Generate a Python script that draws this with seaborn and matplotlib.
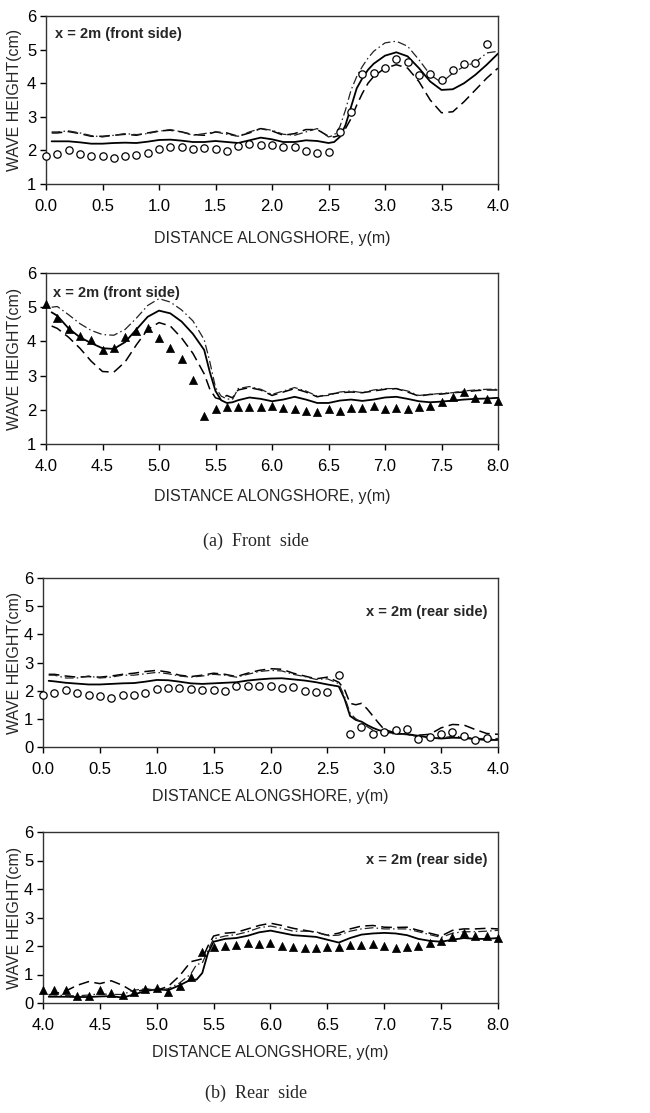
import numpy as np
import pandas as pd
import matplotlib
matplotlib.use("Agg")
import matplotlib.pyplot as plt
import seaborn as sns

sns.set_style("ticks")
plt.rcParams['font.family'] = ['Liberation Sans', 'DejaVu Sans']

# ---------------- Panel 1 : front side, y = 0..4 ----------------
obs1_x = [round(0.1 * i, 1) for i in range(40)]
obs1_y = [1.83, 1.90, 2.02, 1.90, 1.84, 1.84, 1.77, 1.84, 1.86, 1.92,
          2.05, 2.10, 2.09, 2.05, 2.08, 2.04, 1.97, 2.14, 2.18, 2.17,
          2.16, 2.09, 2.11, 1.97, 1.92, 1.95, 2.55, 3.15, 4.27, 4.31,
          4.44, 4.71, 4.64, 4.23, 4.27, 4.11, 4.39, 4.57, 4.59, 5.18]
mod1_x = [0.05, 0.1, 0.2, 0.3, 0.4, 0.5, 0.6, 0.7, 0.8, 0.9, 1.0, 1.1, 1.2, 1.3, 1.4, 1.5,
          1.6, 1.7, 1.8, 1.9, 2.0, 2.1, 2.2, 2.3, 2.4, 2.5,
          2.55, 2.6, 2.65, 2.7, 2.75, 2.8, 2.85, 2.9,
          3.0, 3.1, 3.2, 3.3, 3.4, 3.5, 3.6, 3.7, 3.8, 3.9, 4.0]
solid1 = [2.27, 2.27, 2.27, 2.24, 2.20, 2.20, 2.22, 2.23, 2.22, 2.26, 2.31, 2.32, 2.29, 2.25, 2.25, 2.28,
          2.25, 2.22, 2.30, 2.38, 2.33, 2.25, 2.25, 2.30, 2.28, 2.22,
          2.25, 2.40, 2.75, 3.30, 3.85, 4.15, 4.40, 4.58,
          4.82, 4.92, 4.80, 4.45, 4.05, 3.80, 3.82, 4.00, 4.25, 4.55, 4.88]
dash1 = [2.52, 2.52, 2.56, 2.50, 2.42, 2.42, 2.45, 2.48, 2.45, 2.52, 2.58, 2.60, 2.55, 2.47, 2.45, 2.55,
         2.52, 2.42, 2.52, 2.65, 2.58, 2.45, 2.50, 2.62, 2.62, 2.42,
         2.40, 2.45, 2.65, 2.95, 3.35, 3.70, 4.00, 4.20,
         4.45, 4.55, 4.45, 4.05, 3.50, 3.12, 3.15, 3.45, 3.80, 4.15, 4.45]
dashdot1 = [2.55, 2.55, 2.58, 2.52, 2.44, 2.40, 2.45, 2.50, 2.47, 2.50, 2.57, 2.62, 2.55, 2.45, 2.50, 2.55,
            2.48, 2.42, 2.55, 2.65, 2.60, 2.48, 2.45, 2.55, 2.65, 2.40,
            2.45, 2.70, 3.20, 3.80, 4.20, 4.50, 4.75, 4.95,
            5.20, 5.25, 5.10, 4.70, 4.25, 4.02, 4.30, 4.50, 4.62, 4.90, 4.95]

# ---------------- Panel 2 : front side, y = 4..8 ----------------
obs2_x = [round(4.0 + 0.1 * i, 1) for i in range(41)]
obs2_y = [5.09, 4.67, 4.36, 4.15, 4.04, 3.76, 3.82, 4.13, 4.30, 4.40,
          4.11, 3.81, 3.49, 2.87, 1.82, 2.01, 2.07, 2.07, 2.09, 2.09,
          2.11, 2.05, 2.03, 1.97, 1.95, 2.01, 1.97, 2.06, 2.06, 2.12,
          2.01, 2.04, 2.03, 2.07, 2.12, 2.24, 2.38, 2.51, 2.34, 2.33, 2.26]
mod2_x = [4.05, 4.1, 4.2, 4.3, 4.4, 4.5, 4.6, 4.7, 4.8, 4.9, 5.0, 5.1, 5.2, 5.3, 5.4,
          5.45, 5.5, 5.55, 5.6, 5.65,
          5.7, 5.8, 5.9, 6.0, 6.1, 6.2, 6.3, 6.4, 6.5, 6.6, 6.7, 6.8, 6.9, 7.0,
          7.1, 7.2, 7.3, 7.4, 7.5, 7.6, 7.7, 7.8, 7.9, 8.0]
solid2 = [4.85, 4.75, 4.38, 4.12, 3.95, 3.80, 3.78, 3.98, 4.35, 4.72, 4.90, 4.82, 4.58, 4.22, 3.75,
          3.10, 2.55, 2.28, 2.20, 2.22,
          2.28, 2.36, 2.32, 2.25, 2.30, 2.38, 2.30, 2.20, 2.20, 2.27, 2.30, 2.26, 2.30, 2.36,
          2.38, 2.32, 2.25, 2.22, 2.24, 2.27, 2.30, 2.32, 2.33, 2.35]
dash2 = [4.45, 4.38, 4.12, 3.80, 3.42, 3.12, 3.10, 3.40, 3.90, 4.35, 4.55, 4.45, 4.10, 3.65, 3.05,
         2.60, 2.35, 2.30, 2.42, 2.35,
         2.58, 2.65, 2.58, 2.42, 2.52, 2.62, 2.52, 2.38, 2.45, 2.50, 2.52, 2.50, 2.55, 2.60,
         2.62, 2.52, 2.40, 2.45, 2.46, 2.50, 2.52, 2.56, 2.58, 2.58]
dashdot2 = [5.00, 5.02, 4.78, 4.52, 4.32, 4.20, 4.18, 4.35, 4.68, 5.05, 5.25, 5.15, 4.92, 4.60, 4.05,
            3.40, 2.65, 2.40, 2.32, 2.30,
            2.62, 2.68, 2.60, 2.45, 2.55, 2.65, 2.55, 2.40, 2.42, 2.52, 2.55, 2.50, 2.58, 2.62,
            2.62, 2.55, 2.42, 2.45, 2.48, 2.50, 2.55, 2.58, 2.60, 2.60]

# ---------------- Panel 3 : rear side, y = 0..4 ----------------
obs3_x = [round(0.1 * i, 1) for i in range(40)]
obs3_y = [1.83, 1.91, 2.03, 1.92, 1.84, 1.80, 1.73, 1.83, 1.85, 1.92,
          2.06, 2.10, 2.10, 2.06, 2.04, 2.02, 1.98, 2.15, 2.18, 2.18,
          2.17, 2.09, 2.12, 2.00, 1.95, 1.97, 2.56, 0.47, 0.71, 0.47,
          0.54, 0.59, 0.65, 0.28, 0.35, 0.46, 0.53, 0.38, 0.24, 0.32]
mod3_x = [0.05, 0.1, 0.2, 0.3, 0.4, 0.5, 0.6, 0.7, 0.8, 0.9, 1.0, 1.1, 1.2, 1.3, 1.4, 1.5,
          1.6, 1.7, 1.8, 1.9, 2.0, 2.1, 2.2, 2.3, 2.4, 2.5, 2.6,
          2.65, 2.7, 2.75, 2.8, 2.85, 2.9, 2.95, 3.0,
          3.1, 3.2, 3.3, 3.4, 3.5, 3.6, 3.7, 3.8, 3.9, 4.0]
solid3 = [2.35, 2.33, 2.28, 2.25, 2.22, 2.22, 2.24, 2.26, 2.27, 2.32, 2.38, 2.37, 2.32, 2.26, 2.24, 2.26,
          2.28, 2.30, 2.36, 2.40, 2.43, 2.44, 2.40, 2.36, 2.30, 2.22, 2.15,
          1.72, 1.10, 0.96, 0.90, 0.78, 0.68, 0.60, 0.55,
          0.48, 0.45, 0.40, 0.33, 0.30, 0.33, 0.32, 0.28, 0.25, 0.25]
dash3 = [2.58, 2.58, 2.52, 2.48, 2.50, 2.48, 2.52, 2.58, 2.62, 2.68, 2.72, 2.66, 2.55, 2.50, 2.55, 2.62,
         2.58, 2.50, 2.62, 2.72, 2.78, 2.76, 2.62, 2.52, 2.42, 2.48, 2.30,
         2.05, 1.55, 1.50, 1.55, 1.35, 1.10, 0.85, 0.62,
         0.50, 0.45, 0.42, 0.45, 0.68, 0.80, 0.78, 0.62, 0.48, 0.45]
dashdot3 = [2.55, 2.55, 2.45, 2.45, 2.52, 2.45, 2.48, 2.55, 2.55, 2.60, 2.65, 2.60, 2.52, 2.48, 2.52, 2.58,
            2.55, 2.48, 2.58, 2.68, 2.72, 2.70, 2.58, 2.50, 2.40, 2.42, 2.25,
            1.80, 1.20, 1.00, 0.88, 0.72, 0.60, 0.52, 0.50,
            0.46, 0.44, 0.36, 0.32, 0.32, 0.38, 0.36, 0.30, 0.30, 0.30]

# ---------------- Panel 4 : rear side, y = 4..8 ----------------
obs4_x = [round(4.0 + 0.1 * i, 1) for i in range(41)]
obs4_y = [0.46, 0.44, 0.45, 0.23, 0.24, 0.44, 0.35, 0.29, 0.37, 0.50,
          0.52, 0.37, 0.60, 0.91, 1.80, 1.96, 2.00, 2.03, 2.10, 2.08,
          2.12, 1.99, 1.98, 1.94, 1.92, 1.96, 1.95, 2.04, 2.03, 2.07,
          1.99, 1.94, 1.97, 2.01, 2.09, 2.19, 2.33, 2.45, 2.36, 2.36, 2.28]
mod4_x = [4.05, 4.1, 4.2, 4.3, 4.4, 4.5, 4.6, 4.7, 4.8, 4.9, 5.0, 5.1, 5.2, 5.3,
          5.35, 5.4, 5.45, 5.5,
          5.6, 5.7, 5.8, 5.9, 6.0, 6.1, 6.2, 6.3, 6.4, 6.5, 6.6, 6.7, 6.8, 6.9, 7.0,
          7.1, 7.2, 7.3, 7.4, 7.5, 7.6, 7.7, 7.8, 7.9, 8.0]
solid4 = [0.22, 0.22, 0.22, 0.21, 0.21, 0.23, 0.24, 0.19, 0.30, 0.42, 0.48, 0.45, 0.62, 0.82,
          0.82, 1.05, 1.75, 2.15,
          2.25, 2.28, 2.36, 2.48, 2.54, 2.46, 2.38, 2.35, 2.32, 2.22, 2.12, 2.28, 2.40, 2.44, 2.46,
          2.44, 2.38, 2.25, 2.18, 2.15, 2.22, 2.28, 2.25, 2.25, 2.28]
dash4 = [0.28, 0.32, 0.42, 0.62, 0.75, 0.68, 0.78, 0.62, 0.38, 0.48, 0.45, 0.58, 0.95, 1.45,
         1.50, 1.55, 2.00, 2.35,
         2.45, 2.48, 2.60, 2.72, 2.80, 2.72, 2.62, 2.55, 2.48, 2.38, 2.45, 2.60, 2.70, 2.72, 2.66,
         2.65, 2.66, 2.55, 2.45, 2.35, 2.55, 2.60, 2.60, 2.62, 2.60]
dashdot4 = [0.30, 0.28, 0.26, 0.25, 0.28, 0.32, 0.30, 0.30, 0.45, 0.50, 0.45, 0.50, 0.70, 1.02,
            1.35, 1.40, 1.85, 2.25,
            2.35, 2.40, 2.50, 2.64, 2.70, 2.62, 2.52, 2.52, 2.50, 2.36, 2.38, 2.52, 2.60, 2.64, 2.60,
            2.60, 2.60, 2.50, 2.40, 2.30, 2.45, 2.50, 2.50, 2.52, 2.55]

x_label = "DISTANCE ALONGSHORE, y(m)"
y_label = "WAVE HEIGHT(cm)"
label_front = "x = 2m (front side)"
label_rear = "x = 2m (rear side)"
caption_a = "(a)  Front  side"
caption_b = "(b)  Rear  side"

W, H = 650, 1113
fig = plt.figure(figsize=(W / 100, H / 100), dpi=100)


def box(l, r, t, b):
    return [l / W, 1 - b / H, (r - l) / W, (b - t) / H]


panels = [
    dict(rect=box(46, 498, 16, 184), obs=(obs1_x, obs1_y), marker='o', mx=mod1_x,
         s=solid1, d=dash1, dd=dashdot1, xlim=(0, 4), ylim=(1, 6), yt=range(1, 7),
         txt=label_front, tx=0.02, ty=0.895, ha='left', xl=-0.28),
    dict(rect=box(46, 498, 273, 444), obs=(obs2_x, obs2_y), marker='^', mx=mod2_x,
         s=solid2, d=dash2, dd=dashdot2, xlim=(4, 8), ylim=(1, 6), yt=range(1, 7),
         txt=label_front, tx=0.016, ty=0.885, ha='left', xl=-0.265),
    dict(rect=box(43, 498, 578, 747), obs=(obs3_x, obs3_y), marker='o', mx=mod3_x,
         s=solid3, d=dash3, dd=dashdot3, xlim=(0, 4), ylim=(0, 6), yt=range(0, 7),
         txt=label_rear, tx=0.978, ty=0.80, ha='right', xl=-0.25),
    dict(rect=box(43, 498, 832, 1003), obs=(obs4_x, obs4_y), marker='^', mx=mod4_x,
         s=solid4, d=dash4, dd=dashdot4, xlim=(4, 8), ylim=(0, 6), yt=range(0, 7),
         txt=label_rear, tx=0.978, ty=0.835, ha='right', xl=-0.245),
]

for p in panels:
    ax = fig.add_axes(p['rect'])
    sns.lineplot(x=p['mx'], y=p['s'], ax=ax, color='black', lw=1.3, sort=False,
                 estimator=None)
    sns.lineplot(x=p['mx'], y=p['d'], ax=ax, color='black', lw=1.1, sort=False,
                 estimator=None, linestyle=(0, (7, 3.5)))
    sns.lineplot(x=p['mx'], y=p['dd'], ax=ax, color='#222222', lw=0.9, sort=False,
                 estimator=None, linestyle=(0, (7, 2.5, 1.2, 2.5)))
    ox, oy = p['obs']
    if p['marker'] == 'o':
        sns.scatterplot(x=ox, y=oy, ax=ax, marker='o', s=28, facecolor='white',
                        edgecolor='black', linewidth=0.9, zorder=5, clip_on=False)
    else:
        sns.scatterplot(x=ox, y=oy, ax=ax, marker='^', s=34, color='black',
                        edgecolor='black', linewidth=0.5, zorder=5, clip_on=False)
    ax.set_xlim(*p['xlim'])
    ax.set_ylim(*p['ylim'])
    x0 = p['xlim'][0]
    xt = [x0 + 0.5 * i for i in range(9)]
    ax.set_xticks(xt)
    ax.set_xticklabels([f"{v:.1f}" for v in xt])
    ax.set_yticks(list(p['yt']))
    ax.tick_params(axis='both', direction='out', length=4, width=1, labelsize=12,
                   colors='black')
    ax.tick_params(axis='x', pad=7)
    ax.tick_params(axis='y', pad=3)
    for sp in ax.spines.values():
        sp.set_visible(True)
        sp.set_linewidth(1.0)
        sp.set_color('#333333')
    ax.set_xlabel(x_label, fontsize=11.5)
    ax.xaxis.set_label_coords(0.5, p['xl'])
    ax.set_ylabel(y_label, fontsize=11.5)
    ax.yaxis.set_label_coords((15 - p['rect'][0] * W) / (p['rect'][2] * W), 0.5)
    ax.yaxis.label.set_va('center')
    ax.text(p['tx'], p['ty'], p['txt'], transform=ax.transAxes, ha=p['ha'],
            va='center', fontsize=10.5, fontweight='bold')

fig.text(256 / W, 1 - 541 / H, caption_a, ha='center', va='center',
         fontsize=13, family=['Liberation Serif', 'DejaVu Serif'])
fig.text(256 / W, 1 - 1093 / H, caption_b, ha='center', va='center',
         fontsize=13, family=['Liberation Serif', 'DejaVu Serif'])

fig.savefig("out.png", dpi=100)
